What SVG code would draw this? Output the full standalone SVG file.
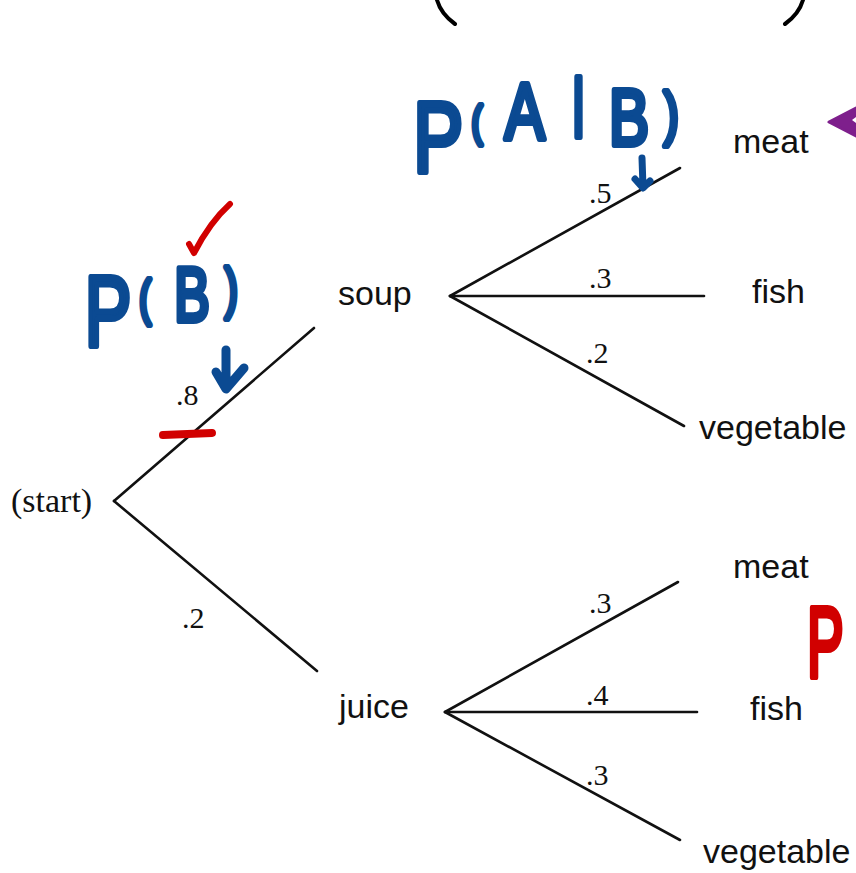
<svg xmlns="http://www.w3.org/2000/svg" width="856" height="873" viewBox="0 0 856 873">
<style>
.edge{stroke:#111;stroke-width:2.6;fill:none;stroke-linecap:round}
.node{font-family:"Liberation Sans",Arial,sans-serif;font-size:34px;fill:#111}
.prob{font-family:"Liberation Serif","Times New Roman",serif;font-size:30px;fill:#111}
.start{font-family:"Liberation Serif","Times New Roman",serif;font-size:34px;fill:#111}
.hand{font-family:"Liberation Sans",Arial,sans-serif;stroke-linejoin:round;stroke-linecap:round;stroke-width:6}
.blue{fill:#0B4A92;stroke:#0B4A92}
.red{fill:#D10000;stroke:#D10000}
.ink{fill:none;stroke-linecap:round;stroke-linejoin:round}
</style>
<rect width="856" height="873" fill="#fff"/>
<g id="connectors">
<path class="edge" d="M114,501 L314,328"/>
<path class="edge" d="M114,501 L317,671"/>
<path class="edge" d="M450,296 L680,168"/>
<path class="edge" d="M450,296 L704,296"/>
<path class="edge" d="M450,296 L684,426"/>
<path class="edge" d="M445,712 L678,582"/>
<path class="edge" d="M445,712 L697,712"/>
<path class="edge" d="M445,712 L680,840"/>
</g>
<g id="edge-labels">
<text class="prob" x="176" y="405">.8</text>
<text class="prob" x="182" y="628">.2</text>
<text class="prob" x="589" y="203">.5</text>
<text class="prob" x="589" y="288">.3</text>
<text class="prob" x="586" y="363">.2</text>
<text class="prob" x="589" y="613">.3</text>
<text class="prob" x="586" y="705">.4</text>
<text class="prob" x="586" y="785">.3</text>
</g>
<g id="start"><text class="start" x="11" y="512">(start)</text></g>
<g id="soup"><text class="node" x="338" y="305">soup</text></g>
<g id="juice"><text class="node" x="339" y="718">juice</text></g>
<g id="soup-meat"><text class="node" x="733" y="153">meat</text></g>
<g id="soup-fish"><text class="node" x="752" y="303">fish</text></g>
<g id="soup-vegetable"><text class="node" x="699" y="439">vegetable</text></g>
<g id="juice-meat"><text class="node" x="733" y="578">meat</text></g>
<g id="juice-fish"><text class="node" x="750" y="720">fish</text></g>
<g id="juice-vegetable"><text class="node" x="703" y="863">vegetable</text></g>
<g id="annotations">
<path class="ink" stroke="#000" stroke-width="4" d="M437,0 Q441,14 455,24"/>
<path class="ink" stroke="#000" stroke-width="4" d="M803,0 Q799,14 785,24"/>
<text id="note-pab" class="hand blue" transform="scale(0.75,1)"><tspan x="551" y="172" font-size="100">P</tspan><tspan x="629" y="136" font-size="42">(</tspan><tspan x="673" y="139" font-size="80">A</tspan><tspan x="763" y="124" font-size="64">|</tspan><tspan x="812" y="145" font-size="80">B</tspan><tspan x="885" y="134" font-size="60">)</tspan></text>
<path class="ink" stroke="#0B4A92" stroke-width="7" d="M642,158 L643,187 M635,179 L643,188 L650,181"/>
<text id="note-pb" class="hand blue" transform="scale(0.7,1)"><tspan x="121" y="346" font-size="100">P</tspan><tspan x="199" y="315" font-size="50">(</tspan><tspan x="249" y="321" font-size="76">B</tspan><tspan x="321" y="307" font-size="56">)</tspan></text>
<path class="ink" stroke="#0B4A92" stroke-width="9" d="M226,350 L226,388 M216,372 L226,389 L244,368"/>
<path class="ink" stroke="#D10000" stroke-width="6" d="M189,244 L194,253 Q210,222 230,204"/>
<path class="ink" stroke="#D10000" stroke-width="8" d="M163,435 L212,433"/>
<text class="hand red" transform="translate(807,677) scale(0.55,1)" font-size="100">P</text>
<polygon points="829,122 856,108 856,136" fill="#7E1F8C" stroke="#7E1F8C" stroke-width="3" stroke-linejoin="round"/>
<path d="M852,120 L856,117 L856,123 Z" fill="#fff"/>
</g>
</svg>
